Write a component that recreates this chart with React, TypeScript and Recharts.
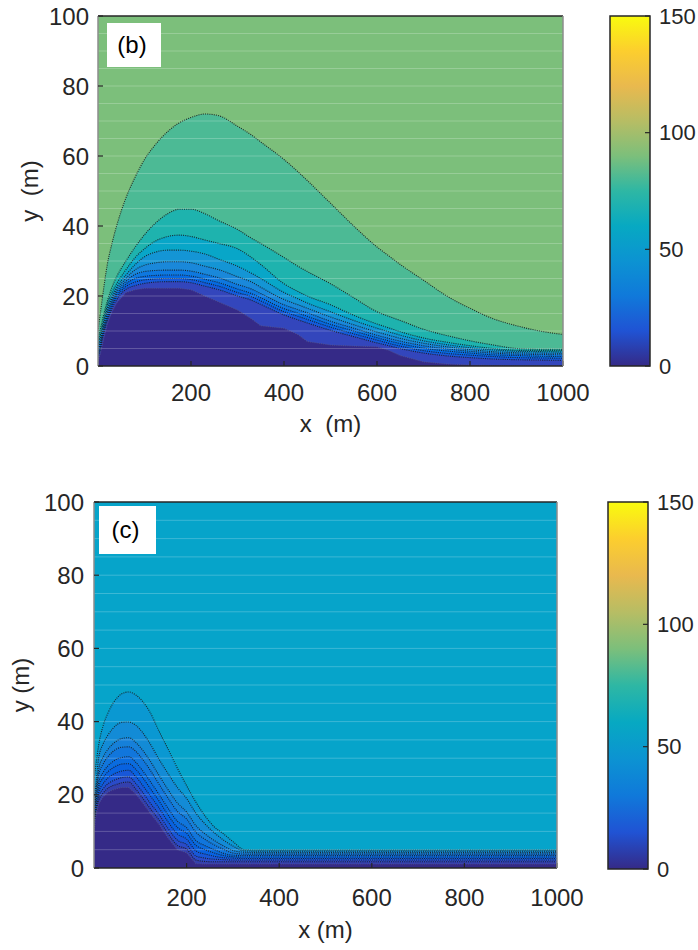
import React from 'react';
import {
  ComposedChart,
  Area,
  XAxis,
  YAxis,
  CartesianGrid,
  ReferenceLine,
  BarChart,
  Bar,
} from 'recharts';

// ---------- shared ticks ----------
const xTicks = [200, 400, 600, 800, 1000];
const yTicks = [0, 20, 40, 60, 80, 100];
const cbTicks = [0, 50, 100, 150];
const meshRows = [5, 10, 15, 20, 25, 30, 35, 40, 45, 50, 55, 60, 65, 70, 75, 80, 85, 90, 95];

// parula colormap stops (colorbar 0..150)
const parulaStops = [
  '#352A87', '#2053D4', '#1079DA', '#0C93D2', '#07A9C2', '#2EB7A4',
  '#7CBF7B', '#B7BD64', '#E9B94E', '#FCCE2E', '#F9FB0E',
];

// ---------- panel (b) contour boundaries ----------
const xB = [0, 5, 10, 20, 30, 40, 60, 80, 100, 125, 150, 175, 200, 230, 260, 300, 330, 350, 400, 430, 450, 500, 550, 600, 625, 650, 700, 750, 800, 850, 900, 950, 1000];
const b1 = [10, 15, 20, 29, 35, 40, 48, 54, 59, 63.5, 67, 69.5, 71, 72, 71.5, 68.5, 66, 64, 59, 55.5, 53, 46.5, 40, 34, 31.5, 29, 24.5, 20, 16.5, 13.5, 11.5, 10, 9];
const b2 = [7.5, 10.5, 13.5, 18.5, 22.5, 25.5, 30, 34, 37.5, 41, 43.5, 44.8, 44.8, 43.5, 41.5, 39, 36.5, 35, 31, 28.5, 27, 23.5, 19.5, 15.5, 14.2, 13, 10.5, 8.7, 7.2, 6, 5, 4.8, 4.8];
const b3 = [6.5, 9, 12, 17.5, 21, 23.5, 27.5, 31, 33.5, 35.8, 37, 37.4, 37, 36, 35, 33.5, 31, 29, 23.5, 21.3, 20, 17.5, 14.5, 12, 10.9, 9.8, 8, 6.8, 5.8, 5, 4.5, 4.4, 4.4];
const b4 = [5.6, 8, 11, 16.5, 20, 22.5, 26, 29, 31.2, 32.6, 33.1, 33.1, 32.8, 32, 30.5, 28.5, 26.5, 25, 21, 19.2, 18, 15.5, 13, 10.8, 9.8, 8.8, 7.2, 6.1, 5.2, 4.6, 4.2, 4.1, 4.0];
const b5 = [4.9, 7.2, 10.3, 15.8, 19.3, 21.8, 25, 27.5, 28.8, 29.5, 29.8, 29.8, 29.5, 28.5, 27.5, 25.5, 24, 22.5, 19, 17.5, 16.5, 14, 11.8, 9.7, 8.8, 7.9, 6.5, 5.5, 4.7, 4.1, 3.8, 3.7, 3.6];
const b6 = [4.2, 6.4, 9.6, 15, 18.6, 21.1, 24.2, 26.2, 27, 27.3, 27.4, 27.4, 27.1, 26.2, 25.2, 23.3, 22, 20.7, 17.5, 16.1, 15.2, 12.8, 10.8, 8.8, 7.9, 7.1, 5.8, 4.9, 4.2, 3.7, 3.4, 3.3, 3.2];
const b7 = [3.6, 5.7, 9, 14.2, 17.9, 20.4, 23.4, 25, 25.6, 25.9, 26, 26, 25.7, 24.8, 23.8, 22, 20.7, 19.5, 16.4, 15.1, 14.2, 11.9, 10, 8.1, 7.2, 6.4, 5.1, 4.3, 3.7, 3.2, 3, 2.8, 2.7];
const b8 = [3, 5, 8.4, 13.5, 17.2, 19.7, 22.7, 24, 24.6, 24.9, 25, 25, 24.7, 23.8, 22.8, 21, 19.8, 18.6, 15.5, 14.2, 13.3, 11.1, 9.2, 7.4, 6.5, 5.7, 4.4, 3.6, 3.1, 2.7, 2.4, 2.3, 2.2];
const b9 = [2.4, 4.4, 7.8, 12.8, 16.4, 18.9, 21.9, 23, 23.6, 24, 24.1, 24.1, 23.8, 22.8, 21.8, 20, 18.8, 17.6, 14.6, 13.2, 12.3, 10.2, 8.4, 6.6, 5.8, 5, 3.7, 2.9, 2.4, 2, 1.8, 1.7, 1.6];
const bD = [1.5, 3.5, 6.5, 12, 15.5, 18, 21, 21.8, 22.2, 22.2, 22.2, 22.2, 21.8, 20, 18.3, 16, 13.5, 11.5, 10.8, 9, 7, 6, 5.7, 5.5, 4.5, 3, 1.2, 0.6, 0.3, 0.2, 0.1, 0.1, 0.1];

// ---------- panel (c) contour boundaries ----------
const xC = [0, 5, 10, 20, 30, 40, 50, 60, 75, 90, 105, 120, 140, 160, 180, 200, 220, 240, 260, 280, 300, 325, 350, 400, 500, 600, 700, 800, 900, 1000];
const c1 = [24, 29, 33.5, 39, 42.3, 44.8, 46.5, 47.6, 48.1, 47.3, 45.5, 42.8, 37.5, 32.5, 27.3, 22.5, 18, 14.2, 11.2, 9.3, 7.2, 5, 4.9, 4.9, 4.9, 4.9, 4.9, 4.9, 4.9, 4.9];
const c2 = [18, 24, 30, 34, 36.3, 38, 39.2, 39.8, 39.9, 39, 37, 34.2, 29.8, 25.8, 22, 19, 15, 12, 9.6, 7.6, 6, 4.7, 4.6, 4.6, 4.6, 4.6, 4.6, 4.6, 4.6, 4.6];
const c3 = [14.5, 21.8, 26.9, 30.4, 32.4, 33.8, 34.8, 35.4, 35.6, 34.3, 32.2, 29.5, 25.4, 21.4, 17.8, 15.3, 11.6, 9.3, 7.5, 6, 4.8, 4.3, 4.2, 4.2, 4.2, 4.2, 4.2, 4.2, 4.2, 4.2];
const c4 = [13.7, 20.6, 25.3, 28.5, 30.4, 31.7, 32.6, 33, 33.1, 31.9, 29.7, 27, 23, 19.1, 15.5, 13.4, 9.8, 7.8, 6.3, 5.1, 4.1, 3.8, 3.8, 3.8, 3.8, 3.8, 3.8, 3.8, 3.8, 3.8];
const c5 = [12.8, 19.1, 23.3, 26.2, 27.9, 29, 29.8, 30.2, 30.4, 28.9, 26.6, 23.9, 20.2, 16.3, 12.8, 11, 7.5, 6.1, 5, 4, 3.5, 3.4, 3.4, 3.4, 3.4, 3.4, 3.4, 3.4, 3.4, 3.4];
const c6 = [12.2, 18.2, 22, 24.7, 26.3, 27.3, 28, 28.4, 28.5, 27, 24.7, 22, 18.4, 14.5, 11.1, 9.5, 6.2, 5, 4.1, 3.4, 3.1, 3, 3, 3, 3, 3, 3, 3, 3, 3];
const c7 = [11.5, 17.2, 20.6, 23.1, 24.6, 25.5, 26.1, 26.5, 26.7, 25, 22.6, 20, 16.5, 12.6, 9.3, 7.9, 4.7, 3.8, 3.2, 2.8, 2.7, 2.6, 2.6, 2.6, 2.6, 2.6, 2.6, 2.6, 2.6, 2.6];
const c8 = [10.9, 16.4, 19.4, 21.7, 23, 23.8, 24.3, 24.7, 24.9, 23.1, 20.7, 18, 14.7, 10.8, 7.6, 6.4, 3.3, 2.7, 2.4, 2.3, 2.2, 2.2, 2.2, 2.2, 2.2, 2.2, 2.2, 2.2, 2.2, 2.2];
const c9 = [10.4, 15.6, 18.4, 20.5, 21.8, 22.5, 22.9, 23.3, 23.5, 21.6, 19.1, 16.5, 13.2, 9.4, 6.2, 5.2, 2.2, 1.8, 1.7, 1.7, 1.7, 1.7, 1.7, 1.7, 1.7, 1.7, 1.7, 1.7, 1.7, 1.7];
const cD = [10, 15, 17.5, 19.5, 20.7, 21.3, 21.7, 22, 22, 20.3, 17.8, 15.2, 12, 8.2, 5, 4.2, 1.2, 1.1, 1.1, 1.1, 1.1, 1.1, 1.1, 1.1, 1.1, 1.1, 1.1, 1.1, 1.1, 1.1];

// fill colours per band (outer -> inner)
const bBg = '#7CBF7B';
const bFills = ['#4CBA95', '#1EB3AE', '#08A6C8', '#1495D5', '#1A88DA', '#0E78DF', '#066AE2', '#155ADA', '#3346BC', '#352A87'];
const cBg = '#06A4CA';
const cFills = ['#0A98D2', '#138BD6', '#1680D9', '#1176DC', '#0A6CDF', '#0862E0', '#1857D8', '#2A4BC8', '#3440AE', '#352A87'];

const keys = ['k1', 'k2', 'k3', 'k4', 'k5', 'k6', 'k7', 'k8', 'k9', 'kd'];
const bSeries = [b1, b2, b3, b4, b5, b6, b7, b8, b9, bD];
const cSeries = [c1, c2, c3, c4, c5, c6, c7, c8, c9, cD];

const buildRows = (xs: number[], series: number[][]) =>
  xs.map((x, i) => {
    const row: Record<string, number> = { x };
    series.forEach((s, j) => {
      row[keys[j]] = s[i];
    });
    return row;
  });

const bRows = buildRows(xB, bSeries);
const cRows = buildRows(xC, cSeries);
const cbData = [{ name: 'cb', v: 150 }];

const FONT = '"Liberation Sans", Arial, Helvetica, sans-serif';
const TXT = '#262626';
const FS = 24;
const CB_FS = 22;

type PanelProps = {
  rows: Record<string, number>[];
  fills: string[];
  bg: string;
  top: number;
  height: number;
  plotLeft: number;
  plotRight: number;
  plotTop: number;
  plotBottom: number;
  xTickMargin: number;
  xTitle: string;
  xTitleOffset: number;
  yTitle: string;
  yTitleOffset: number;
  yTickMargin: number;
};

const W = 600;

function Panel(p: PanelProps) {
  const bottomAxisH = p.height - p.plotBottom;
  return (
    <div style={{ position: 'absolute', left: 0, top: p.top }}>
      <ComposedChart
        width={W}
        height={p.height}
        data={p.rows}
        margin={{ top: p.plotTop - 1, right: W - p.plotRight - 1, left: 0, bottom: 0 }}
        style={{ fontFamily: FONT }}
      >
        <CartesianGrid
          xAxisId="b"
          yAxisId="l"
          fill={p.bg}
          fillOpacity={1}
          stroke="none"
          horizontal={false}
          vertical={false}
        />
        {keys.map((k, i) => (
          <Area
            key={k}
            xAxisId="b"
            yAxisId="l"
            type={k === 'kd' ? 'linear' : 'monotone'}
            dataKey={k}
            fill={p.fills[i]}
            fillOpacity={1}
            stroke={k === 'kd' ? '#5a5a8a' : '#1a1a1a'}
            strokeOpacity={k === 'kd' ? 0.7 : 0.9}
            strokeWidth={1.1}
            strokeDasharray="1 1.2"
            dot={false}
            activeDot={false}
            isAnimationActive={false}
          />
        ))}
        {meshRows.map((v) => (
          <ReferenceLine
            key={v}
            xAxisId="b"
            yAxisId="l"
            y={v}
            stroke="#ffffff"
            strokeOpacity={0.22}
            strokeWidth={1}
          />
        ))}
        <XAxis
          xAxisId="b"
          type="number"
          dataKey="x"
          domain={[0, 1000]}
          ticks={xTicks}
          interval={0}
          allowDataOverflow
          height={bottomAxisH}
          tickSize={-5}
          tickMargin={p.xTickMargin}
          axisLine={{ stroke: TXT, strokeWidth: 1.5 }}
          tickLine={{ stroke: TXT, strokeWidth: 1.2 }}
          tick={{ fontSize: FS, fill: TXT, fontFamily: FONT }}
          label={{
            value: p.xTitle,
            position: 'insideBottom',
            offset: p.xTitleOffset,
            fontSize: FS,
            fill: TXT,
            fontFamily: FONT,
          }}
        />
        <XAxis
          xAxisId="t"
          orientation="top"
          type="number"
          dataKey="x"
          domain={[0, 1000]}
          ticks={xTicks}
          interval={0}
          allowDataOverflow
          height={1}
          tick={false}
          tickSize={-5}
          axisLine={{ stroke: TXT, strokeWidth: 1.5 }}
          tickLine={{ stroke: TXT, strokeWidth: 1.2 }}
        />
        <YAxis
          yAxisId="l"
          type="number"
          domain={[0, 100]}
          ticks={yTicks}
          interval={0}
          allowDataOverflow
          width={p.plotLeft}
          tickSize={-5}
          tickMargin={p.yTickMargin}
          axisLine={{ stroke: '#8c8c8c', strokeWidth: 1.5 }}
          tickLine={{ stroke: TXT, strokeWidth: 1.2 }}
          tick={{ fontSize: FS, fill: TXT, fontFamily: FONT }}
          label={{
            value: p.yTitle,
            angle: -90,
            position: 'insideLeft',
            offset: p.yTitleOffset,
            fontSize: FS,
            fill: TXT,
            fontFamily: FONT,
            style: { textAnchor: 'middle' },
          }}
        />
        <YAxis
          yAxisId="r"
          orientation="right"
          type="number"
          domain={[0, 100]}
          ticks={yTicks}
          interval={0}
          allowDataOverflow
          width={1}
          tick={false}
          tickSize={-5}
          axisLine={{ stroke: '#8c8c8c', strokeWidth: 1.5 }}
          tickLine={{ stroke: TXT, strokeWidth: 1.2 }}
        />
      </ComposedChart>
    </div>
  );
}

type CbProps = { id: string; left: number; top: number; barLeft: number; barTop: number; barBottom: number; height: number };

function ColorBar(p: CbProps) {
  const width = 698 - p.left;
  return (
    <div style={{ position: 'absolute', left: p.left, top: p.top }}>
      <BarChart
        width={width}
        height={p.height}
        data={cbData}
        margin={{ top: p.barTop, right: 0, left: p.barLeft, bottom: p.height - p.barBottom }}
        barCategoryGap={0}
        style={{ fontFamily: FONT }}
      >
        <defs>
          <linearGradient id={p.id} x1="0" y1="1" x2="0" y2="0">
            {parulaStops.map((c, i) => (
              <stop key={i} offset={`${(i / (parulaStops.length - 1)) * 100}%`} stopColor={c} />
            ))}
          </linearGradient>
        </defs>
        <XAxis dataKey="name" hide />
        <Bar dataKey="v" fill={`url(#${p.id})`} stroke={TXT} strokeWidth={1.5} isAnimationActive={false} />
        <YAxis
          orientation="right"
          type="number"
          domain={[0, 150]}
          ticks={cbTicks}
          interval={0}
          width={width - p.barLeft - 40}
          tickSize={-5}
          tickMargin={14}
          axisLine={false}
          tickLine={{ stroke: TXT, strokeWidth: 1.2 }}
          tick={{ fontSize: CB_FS, fill: TXT, fontFamily: FONT }}
        />
      </BarChart>
    </div>
  );
}

const boxStyle = (left: number, top: number, w: number, h: number): React.CSSProperties => ({
  position: 'absolute',
  left,
  top,
  width: w,
  height: h,
  background: '#ffffff',
  fontFamily: FONT,
  fontSize: FS,
  color: '#000000',
  display: 'flex',
  alignItems: 'center',
  justifyContent: 'center',
  boxSizing: 'border-box',
  paddingRight: 4,
});

export default function App() {
  return (
    <div style={{ position: 'absolute', left: 0, top: 0, width: 698, height: 950, background: '#ffffff', overflow: 'hidden' }}>
      <Panel
        rows={bRows}
        fills={bFills}
        bg={bBg}
        top={0}
        height={460}
        plotLeft={98}
        plotRight={563}
        plotTop={16}
        plotBottom={366}
        xTickMargin={23}
        xTitle={'x\u00A0 (m)'}
        xTitleOffset={28}
        yTitle={'y\u00A0 (m)'}
        yTitleOffset={29}
        yTickMargin={14}
      />
      <ColorBar id="parulaB" left={600} top={0} barLeft={10} barTop={16} barBottom={366} height={390} />
      <div style={boxStyle(107, 23, 54, 44)}>(b)</div>

      <Panel
        rows={cRows}
        fills={cFills}
        bg={cBg}
        top={480}
        height={470}
        plotLeft={94}
        plotRight={557}
        plotTop={22}
        plotBottom={388}
        xTickMargin={26}
        xTitle={'x (m)'}
        xTitleOffset={12}
        yTitle={'y (m)'}
        yTitleOffset={20}
        yTickMargin={15}
      />
      <ColorBar id="parulaC" left={600} top={480} barLeft={8} barTop={22} barBottom={389} height={410} />
      <div style={boxStyle(99, 506, 57, 48)}>(c)</div>
    </div>
  );
}
